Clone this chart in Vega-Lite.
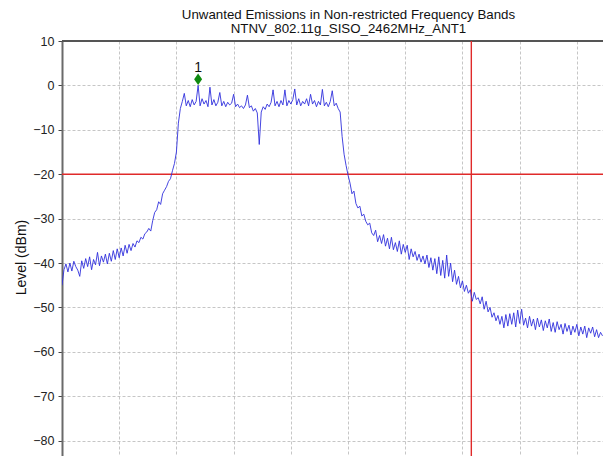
{
  "$schema": "https://vega.github.io/schema/vega-lite/v6.json",
  "width": 541,
  "height": 415,
  "autosize": {"type": "none"},
  "padding": {"left": 62, "top": 41, "right": 0, "bottom": 0},
  "background": "white",
  "config": {"view": {"stroke": null}, "font": "Liberation Sans"},
  "title": {
    "text": ["Unwanted Emissions in Non-restricted Frequency Bands", "NTNV_802.11g_SISO_2462MHz_ANT1"],
    "anchor": "middle",
    "dx": 16,
    "dy": 6,
    "offset": 6,
    "fontSize": 13.3,
    "lineHeight": 14,
    "fontWeight": "normal",
    "color": "#111111",
    "font": "Liberation Sans"
  },
  "datasets": {
    "trace": [
      {"f": 2442.0, "level": -45.0}, {"f": 2442.2, "level": -41.5}, {"f": 2442.4, "level": -40.2}, {"f": 2442.6, "level": -42.0},
      {"f": 2442.8, "level": -40.0}, {"f": 2443.0, "level": -41.8}, {"f": 2443.2, "level": -39.6}, {"f": 2443.4, "level": -40.8},
      {"f": 2443.6, "level": -41.6}, {"f": 2443.8, "level": -43.0}, {"f": 2444.0, "level": -39.5}, {"f": 2444.2, "level": -41.2},
      {"f": 2444.4, "level": -39.0}, {"f": 2444.6, "level": -40.8}, {"f": 2444.8, "level": -38.6}, {"f": 2445.0, "level": -41.5},
      {"f": 2445.2, "level": -39.2}, {"f": 2445.4, "level": -40.4}, {"f": 2445.6, "level": -37.6}, {"f": 2445.8, "level": -40.6},
      {"f": 2446.0, "level": -38.4}, {"f": 2446.2, "level": -39.8}, {"f": 2446.4, "level": -38.0}, {"f": 2446.6, "level": -40.2},
      {"f": 2446.8, "level": -37.8}, {"f": 2447.0, "level": -39.6}, {"f": 2447.2, "level": -37.2}, {"f": 2447.4, "level": -39.2},
      {"f": 2447.6, "level": -36.8}, {"f": 2447.8, "level": -38.8}, {"f": 2448.0, "level": -36.6}, {"f": 2448.2, "level": -38.4},
      {"f": 2448.4, "level": -36.0}, {"f": 2448.6, "level": -37.8}, {"f": 2448.8, "level": -35.8}, {"f": 2449.0, "level": -37.2},
      {"f": 2449.2, "level": -35.6}, {"f": 2449.4, "level": -36.4}, {"f": 2449.6, "level": -35.0}, {"f": 2449.8, "level": -35.4},
      {"f": 2450.0, "level": -34.2}, {"f": 2450.2, "level": -34.6}, {"f": 2450.4, "level": -33.4}, {"f": 2450.6, "level": -33.0},
      {"f": 2450.8, "level": -32.2}, {"f": 2451.0, "level": -32.8}, {"f": 2451.2, "level": -30.4}, {"f": 2451.4, "level": -28.6},
      {"f": 2451.6, "level": -28.0}, {"f": 2451.8, "level": -26.2}, {"f": 2452.0, "level": -26.8}, {"f": 2452.2, "level": -24.4},
      {"f": 2452.4, "level": -23.6}, {"f": 2452.6, "level": -22.8}, {"f": 2452.8, "level": -21.6}, {"f": 2453.0, "level": -21.0},
      {"f": 2453.2, "level": -19.2}, {"f": 2453.4, "level": -17.6}, {"f": 2453.6, "level": -15.0}, {"f": 2453.8, "level": -8.5},
      {"f": 2454.0, "level": -5.2}, {"f": 2454.2, "level": -3.6}, {"f": 2454.4, "level": -1.8}, {"f": 2454.6, "level": -4.6},
      {"f": 2454.8, "level": -3.4}, {"f": 2455.0, "level": -4.8}, {"f": 2455.2, "level": -3.2}, {"f": 2455.4, "level": -4.4},
      {"f": 2455.6, "level": -3.6}, {"f": 2455.8, "level": 0.0}, {"f": 2456.0, "level": -4.6}, {"f": 2456.2, "level": -3.0},
      {"f": 2456.4, "level": -4.2}, {"f": 2456.6, "level": -3.4}, {"f": 2456.8, "level": -4.8}, {"f": 2457.0, "level": -0.4},
      {"f": 2457.2, "level": -4.4}, {"f": 2457.4, "level": -3.2}, {"f": 2457.6, "level": -4.6}, {"f": 2457.8, "level": -3.8},
      {"f": 2458.0, "level": -1.6}, {"f": 2458.2, "level": -4.6}, {"f": 2458.4, "level": -3.6}, {"f": 2458.6, "level": -4.8},
      {"f": 2458.8, "level": -3.8}, {"f": 2459.0, "level": -4.4}, {"f": 2459.2, "level": -4.0}, {"f": 2459.4, "level": -2.0},
      {"f": 2459.6, "level": -4.8}, {"f": 2459.8, "level": -4.2}, {"f": 2460.0, "level": -5.0}, {"f": 2460.2, "level": -4.6},
      {"f": 2460.4, "level": -5.2}, {"f": 2460.6, "level": -4.4}, {"f": 2460.8, "level": -2.2}, {"f": 2461.0, "level": -5.0},
      {"f": 2461.2, "level": -4.6}, {"f": 2461.4, "level": -5.8}, {"f": 2461.6, "level": -5.2}, {"f": 2461.8, "level": -6.2},
      {"f": 2462.0, "level": -13.3}, {"f": 2462.2, "level": -6.0}, {"f": 2462.4, "level": -4.8}, {"f": 2462.6, "level": -5.4},
      {"f": 2462.8, "level": -4.2}, {"f": 2463.0, "level": -4.8}, {"f": 2463.2, "level": -3.8}, {"f": 2463.4, "level": -1.0},
      {"f": 2463.6, "level": -4.6}, {"f": 2463.8, "level": -3.6}, {"f": 2464.0, "level": -4.8}, {"f": 2464.2, "level": -3.4},
      {"f": 2464.4, "level": -4.4}, {"f": 2464.6, "level": -1.0}, {"f": 2464.8, "level": -4.6}, {"f": 2465.0, "level": -3.4},
      {"f": 2465.2, "level": -4.2}, {"f": 2465.4, "level": -3.2}, {"f": 2465.6, "level": -0.8}, {"f": 2465.8, "level": -4.4},
      {"f": 2466.0, "level": -3.0}, {"f": 2466.2, "level": -4.6}, {"f": 2466.4, "level": -3.6}, {"f": 2466.6, "level": -4.2},
      {"f": 2466.8, "level": -3.0}, {"f": 2467.0, "level": -4.6}, {"f": 2467.2, "level": -2.0}, {"f": 2467.4, "level": -4.2},
      {"f": 2467.6, "level": -3.4}, {"f": 2467.8, "level": -4.8}, {"f": 2468.0, "level": -3.6}, {"f": 2468.2, "level": -4.4},
      {"f": 2468.4, "level": -0.9}, {"f": 2468.6, "level": -4.6}, {"f": 2468.8, "level": -3.8}, {"f": 2469.0, "level": -4.8},
      {"f": 2469.2, "level": -3.6}, {"f": 2469.4, "level": -1.2}, {"f": 2469.6, "level": -4.6}, {"f": 2469.8, "level": -4.0},
      {"f": 2470.0, "level": -5.2}, {"f": 2470.2, "level": -6.0}, {"f": 2470.4, "level": -11.5}, {"f": 2470.6, "level": -15.5},
      {"f": 2470.8, "level": -18.0}, {"f": 2471.0, "level": -20.2}, {"f": 2471.2, "level": -22.0}, {"f": 2471.4, "level": -24.4},
      {"f": 2471.6, "level": -23.8}, {"f": 2471.8, "level": -26.6}, {"f": 2472.0, "level": -27.6}, {"f": 2472.2, "level": -27.2},
      {"f": 2472.4, "level": -29.4}, {"f": 2472.6, "level": -29.0}, {"f": 2472.8, "level": -30.6}, {"f": 2473.0, "level": -31.4},
      {"f": 2473.2, "level": -31.0}, {"f": 2473.4, "level": -33.2}, {"f": 2473.6, "level": -33.8}, {"f": 2473.8, "level": -32.6},
      {"f": 2474.0, "level": -35.2}, {"f": 2474.2, "level": -33.8}, {"f": 2474.4, "level": -35.6}, {"f": 2474.6, "level": -33.6},
      {"f": 2474.8, "level": -36.2}, {"f": 2475.0, "level": -34.4}, {"f": 2475.2, "level": -36.8}, {"f": 2475.4, "level": -34.2},
      {"f": 2475.6, "level": -37.0}, {"f": 2475.8, "level": -35.4}, {"f": 2476.0, "level": -37.4}, {"f": 2476.2, "level": -35.0},
      {"f": 2476.4, "level": -38.0}, {"f": 2476.6, "level": -35.8}, {"f": 2476.8, "level": -37.6}, {"f": 2477.0, "level": -36.0},
      {"f": 2477.2, "level": -39.2}, {"f": 2477.4, "level": -36.8}, {"f": 2477.6, "level": -38.6}, {"f": 2477.8, "level": -37.4},
      {"f": 2478.0, "level": -39.4}, {"f": 2478.2, "level": -38.0}, {"f": 2478.4, "level": -39.8}, {"f": 2478.6, "level": -38.4},
      {"f": 2478.8, "level": -40.2}, {"f": 2479.0, "level": -38.2}, {"f": 2479.2, "level": -41.0}, {"f": 2479.4, "level": -38.8},
      {"f": 2479.6, "level": -41.6}, {"f": 2479.8, "level": -39.0}, {"f": 2480.0, "level": -42.4}, {"f": 2480.2, "level": -38.6},
      {"f": 2480.4, "level": -42.8}, {"f": 2480.6, "level": -39.4}, {"f": 2480.8, "level": -43.4}, {"f": 2481.0, "level": -38.2},
      {"f": 2481.2, "level": -43.0}, {"f": 2481.4, "level": -40.0}, {"f": 2481.6, "level": -44.2}, {"f": 2481.8, "level": -41.6},
      {"f": 2482.0, "level": -44.8}, {"f": 2482.2, "level": -43.0}, {"f": 2482.4, "level": -45.6}, {"f": 2482.6, "level": -44.0},
      {"f": 2482.8, "level": -46.4}, {"f": 2483.0, "level": -45.0}, {"f": 2483.2, "level": -46.8}, {"f": 2483.4, "level": -46.0},
      {"f": 2483.6, "level": -48.6}, {"f": 2483.8, "level": -46.6}, {"f": 2484.0, "level": -48.2}, {"f": 2484.2, "level": -47.8},
      {"f": 2484.4, "level": -49.2}, {"f": 2484.6, "level": -47.6}, {"f": 2484.8, "level": -50.4}, {"f": 2485.0, "level": -48.6},
      {"f": 2485.2, "level": -51.0}, {"f": 2485.4, "level": -50.0}, {"f": 2485.6, "level": -52.2}, {"f": 2485.8, "level": -51.2},
      {"f": 2486.0, "level": -53.0}, {"f": 2486.2, "level": -51.8}, {"f": 2486.4, "level": -53.8}, {"f": 2486.6, "level": -52.0},
      {"f": 2486.8, "level": -54.6}, {"f": 2487.0, "level": -51.6}, {"f": 2487.2, "level": -54.2}, {"f": 2487.4, "level": -51.4},
      {"f": 2487.6, "level": -53.8}, {"f": 2487.8, "level": -51.2}, {"f": 2488.0, "level": -54.4}, {"f": 2488.2, "level": -50.6},
      {"f": 2488.4, "level": -53.6}, {"f": 2488.6, "level": -50.4}, {"f": 2488.8, "level": -54.0}, {"f": 2489.0, "level": -52.4},
      {"f": 2489.2, "level": -54.6}, {"f": 2489.4, "level": -52.0}, {"f": 2489.6, "level": -54.2}, {"f": 2489.8, "level": -52.6},
      {"f": 2490.0, "level": -55.0}, {"f": 2490.2, "level": -52.4}, {"f": 2490.4, "level": -54.4}, {"f": 2490.6, "level": -52.8},
      {"f": 2490.8, "level": -55.2}, {"f": 2491.0, "level": -53.0}, {"f": 2491.2, "level": -54.6}, {"f": 2491.4, "level": -52.6},
      {"f": 2491.6, "level": -55.4}, {"f": 2491.8, "level": -53.4}, {"f": 2492.0, "level": -55.6}, {"f": 2492.2, "level": -53.2},
      {"f": 2492.4, "level": -55.0}, {"f": 2492.6, "level": -53.8}, {"f": 2492.8, "level": -56.0}, {"f": 2493.0, "level": -53.6},
      {"f": 2493.2, "level": -55.4}, {"f": 2493.4, "level": -54.0}, {"f": 2493.6, "level": -56.2}, {"f": 2493.8, "level": -54.2},
      {"f": 2494.0, "level": -55.6}, {"f": 2494.2, "level": -53.8}, {"f": 2494.4, "level": -56.4}, {"f": 2494.6, "level": -54.4},
      {"f": 2494.8, "level": -56.0}, {"f": 2495.0, "level": -54.2}, {"f": 2495.2, "level": -56.8}, {"f": 2495.4, "level": -54.6},
      {"f": 2495.6, "level": -55.8}, {"f": 2495.8, "level": -54.4}, {"f": 2496.0, "level": -56.6}, {"f": 2496.2, "level": -55.0},
      {"f": 2496.4, "level": -56.8}, {"f": 2496.6, "level": -55.6}, {"f": 2496.8, "level": -56.4}
    ],
    "limitLevel": [{"level": -20}],
    "bandEdge": [{"f": 2483.5}],
    "frameTop": [{"level": 10}],
    "markers": [{"f": 2455.8, "level": 1.4, "label": "1"}]
  },
  "layer": [
    {
      "data": {"name": "frameTop"},
      "mark": {"type": "rule", "color": "#555555", "strokeWidth": 2},
      "encoding": {
        "y": {
          "field": "level",
          "type": "quantitative",
          "scale": {"domain": [-83.45, 10], "nice": false, "zero": false},
          "axis": {
            "orient": "left",
            "values": [-80, -70, -60, -50, -40, -30, -20, -10, 0, 10],
            "grid": true,
            "gridColor": "#b8b8b8",
            "gridDash": [3, 2],
            "gridWidth": 0.8,
            "domainColor": "#6a6a6a",
            "domainWidth": 2,
            "tickColor": "#444444",
            "tickSize": 4,
            "tickWidth": 1,
            "labelFontSize": 12.5,
            "labelColor": "#222222",
            "labelPadding": 4,
            "labelFlush": false,
            "labelOverlap": false,
            "title": "Level (dBm)",
            "titleFontSize": 14,
            "titleFontWeight": "normal",
            "titleColor": "#111111",
            "titlePadding": 4,
            "titleY": 216
          }
        }
      }
    },
    {
      "data": {"name": "limitLevel"},
      "mark": {"type": "rule", "color": "#e02a2a", "strokeWidth": 1.4},
      "encoding": {"y": {"field": "level", "type": "quantitative"}}
    },
    {
      "data": {"name": "bandEdge"},
      "mark": {"type": "rule", "color": "#e02a2a", "strokeWidth": 1.4},
      "encoding": {
        "x": {
          "field": "f",
          "type": "quantitative",
          "scale": {"domain": [2442, 2496.85], "nice": false, "zero": false},
          "axis": {
            "values": [2447.8, 2453.6, 2459.4, 2465.2, 2471.0, 2476.8, 2482.6, 2488.4, 2494.2],
            "grid": true,
            "gridColor": "#b8b8b8",
            "gridDash": [3, 2],
            "gridWidth": 0.8,
            "labels": false,
            "ticks": false,
            "domain": false,
            "title": null
          }
        }
      }
    },
    {
      "data": {"name": "trace"},
      "mark": {"type": "line", "color": "#3030dc", "strokeWidth": 0.9, "clip": true},
      "encoding": {
        "x": {"field": "f", "type": "quantitative"},
        "y": {"field": "level", "type": "quantitative"}
      }
    },
    {
      "data": {"name": "markers"},
      "mark": {"type": "point", "shape": "M0,-1L0.7,0L0,1L-0.7,0Z", "size": 130, "filled": true, "color": "#0f8a0f", "opacity": 1},
      "encoding": {
        "x": {"field": "f", "type": "quantitative"},
        "y": {"field": "level", "type": "quantitative"}
      }
    },
    {
      "data": {"name": "markers"},
      "mark": {"type": "text", "fontSize": 14, "dy": -11, "baseline": "middle", "color": "#111111", "font": "Liberation Sans"},
      "encoding": {
        "x": {"field": "f", "type": "quantitative"},
        "y": {"field": "level", "type": "quantitative"},
        "text": {"field": "label"}
      }
    }
  ]
}
